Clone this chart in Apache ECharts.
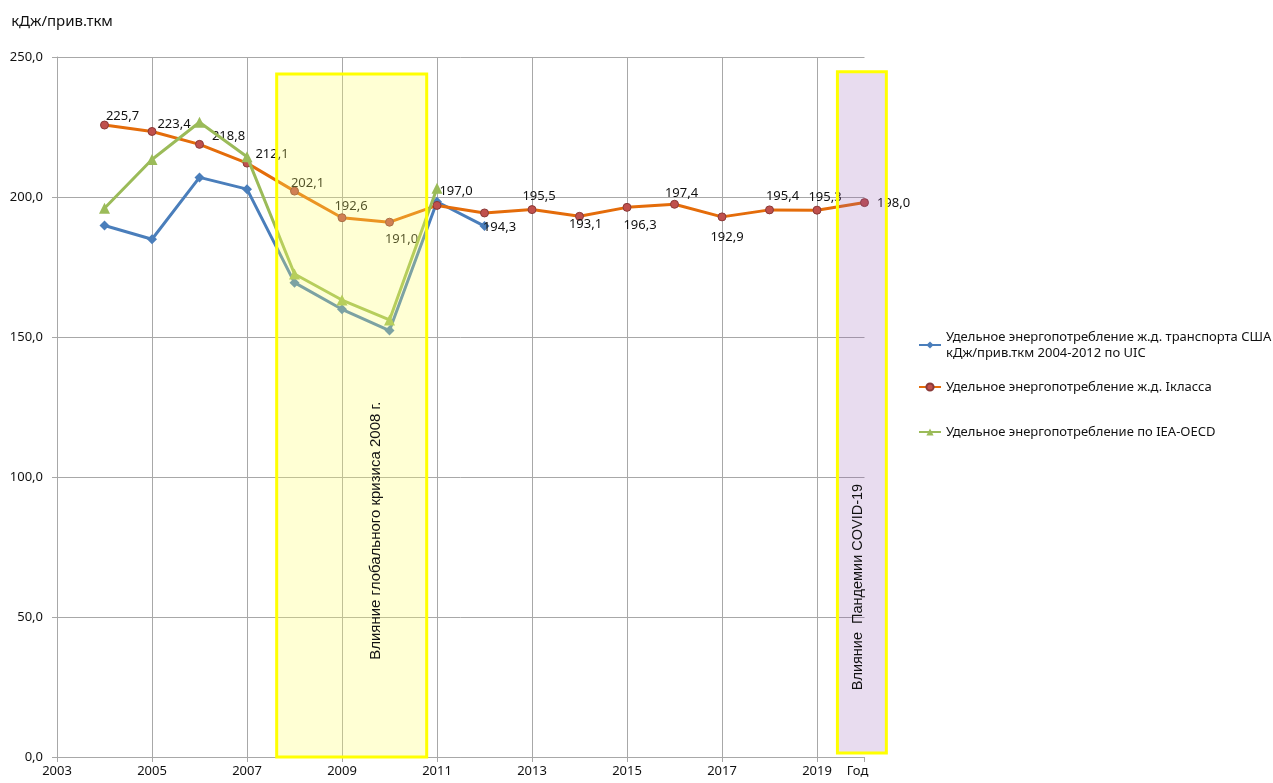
<!DOCTYPE html>
<html><head><meta charset="utf-8">
<script src="https://cdn.jsdelivr.net/npm/echarts@6/dist/echarts.min.js"></script>
<style>html,body{margin:0;padding:0;background:#fff}#c{width:1273px;height:783px}</style>
</head><body><div id="c"></div>
<script>
// ---- data ----
const years = [2004,2005,2006,2007,2008,2009,2010,2011,2012,2013,2014,2015,2016,2017,2018,2019,2020];
const usUIC = [189.8,184.9,207.0,202.8,169.4,159.9,152.3,198.3,189.6];          // 2004-2012
const class1 = [225.7,223.4,218.8,212.1,202.1,192.6,191.0,197.0,194.3,195.5,193.1,196.3,197.4,192.9,195.4,195.3,198.0];
const ieaOecd = [196.0,213.4,226.7,214.4,172.5,163.2,156.1,203.1];              // 2004-2011
const seriesNames = [
  'Удельное энергопотребление ж.д. транспорта США\nкДж/прив.ткм 2004-2012 по UIC',
  'Удельное энергопотребление ж.д. Iкласса',
  'Удельное энергопотребление по IEA-OECD'
];
const yAxisName = 'кДж/прив.ткм';
const xAxisEndLabel = 'Год';
const crisisText = 'Влияние глобального кризиса 2008 г.';
const covidText = 'Влияние  Пандемии COVID-19';
const crisisYears = [2007.625, 2010.783];
const crisisVals = [0, 243.9];
const covidYears = [2019.43, 2020.46];
const covidVals = [1.4, 244.75];
const crisisTextAt = [2009.716, 80.8];
const covidTextAt = [2019.863, 60.7];

// label offsets (px) for orange series data labels
const labelOffsets = [[18,-9],[22,-7],[29,-8],[25,-9],[13,-8],[9,-11],[12,17],[19,-14],[15,14],[7,-13],[6,8],[13,18],[7,-11],[5,20],[13,-14],[8,-13],[29,1]];

const FONT = '"Noto Sans", sans-serif';
const TXT = '#111';
const GRIDC = '#a8a8a8';
const fmt1 = v => v.toFixed(1).replace('.', ',');

const chart = echarts.init(document.getElementById('c'), null, {renderer: 'canvas'});

const xSplitColors = [];
for (let i = 0; i < 9; i++) xSplitColors.push(GRIDC);
xSplitColors.push('rgba(0,0,0,0)');

const option = {
  animation: false,
  backgroundColor: '#fff',
  textStyle: {fontFamily: FONT},
  grid: {left: 57, top: 57, right: 408.5, bottom: 26, containLabel: false, outerBoundsMode: 'none'},
  xAxis: {
    type: 'value', min: 2003, max: 2020, interval: 2,
    axisLine: {show: true, lineStyle: {color: GRIDC, width: 1}},
    axisTick: {show: true, length: 5, lineStyle: {color: GRIDC}},
    axisLabel: {
      margin: 8, color: TXT, fontSize: 13, fontFamily: FONT,
      formatter: v => v === 2020 ? '{g|' + xAxisEndLabel + '}' : String(v),
      rich: {g: {fontSize: 13, fontFamily: FONT, color: TXT, padding: [0, 14, 0, 0]}}
    },
    splitLine: {show: true, lineStyle: {color: xSplitColors, width: 1}}
  },
  yAxis: {
    type: 'value', min: 0, max: 250, interval: 50,
    name: yAxisName, nameLocation: 'end', nameGap: 26,
    nameTextStyle: {fontSize: 15, color: TXT, fontFamily: FONT, lineHeight: 18, padding: [0, 0, 0, 10]},
    axisLine: {show: true, lineStyle: {color: GRIDC, width: 1}},
    axisTick: {show: true, length: 5, lineStyle: {color: GRIDC}},
    axisLabel: {margin: 14, color: TXT, fontSize: 13, fontFamily: FONT, formatter: v => fmt1(v)},
    splitLine: {show: true, lineStyle: {color: GRIDC, width: 1}}
  },
  legend: [
    {
      left: 918, top: 321, padding: 0, orient: 'vertical', itemWidth: 22, itemHeight: 9,
      data: [seriesNames[0]],
      textStyle: {fontSize: 13, color: TXT, fontFamily: FONT, lineHeight: 16, padding: [16, 0, 0, 0]}
    },
    {
      left: 918, top: 379, padding: 0, orient: 'vertical', itemWidth: 22, itemHeight: 9,
      data: [seriesNames[1]],
      textStyle: {fontSize: 13, color: TXT, fontFamily: FONT, lineHeight: 16}
    },
    {
      left: 918, top: 424, padding: 0, orient: 'vertical', itemWidth: 22, itemHeight: 9,
      data: [seriesNames[2]],
      textStyle: {fontSize: 13, color: TXT, fontFamily: FONT, lineHeight: 16}
    }
  ],
  series: [
    {
      name: seriesNames[0], type: 'line',
      data: usUIC.map((v, i) => [years[i], v]),
      symbol: 'diamond', symbolSize: 10,
      itemStyle: {color: '#4a7ebb'},
      lineStyle: {color: '#4a7ebb', width: 3},
      z: 3
    },
    {
      name: seriesNames[1], type: 'line',
      data: class1.map((v, i) => ({
        value: [years[i], v],
        label: {offset: labelOffsets[i]}
      })),
      symbol: 'circle', symbolSize: 8,
      itemStyle: {color: '#c0504d', borderColor: '#8a3a38', borderWidth: 1},
      lineStyle: {color: '#e46c0a', width: 3},
      label: {
        show: true, position: 'inside', color: TXT, fontSize: 13, fontFamily: FONT,
        formatter: p => fmt1(p.value[1])
      },
      z: 4
    },
    {
      name: seriesNames[2], type: 'line',
      data: ieaOecd.map((v, i) => [years[i], v]),
      symbol: 'triangle', symbolSize: 11,
      itemStyle: {color: '#9bbb59'},
      lineStyle: {color: '#9bbb59', width: 3},
      z: 5
    }
  ]
};
chart.setOption(option);

function px(pt) { return chart.convertToPixel({gridIndex: 0}, pt); }
const c0 = px([crisisYears[0], crisisVals[1]]);
const c1 = px([crisisYears[1], crisisVals[0]]);
const v0 = px([covidYears[0], covidVals[1]]);
const v1 = px([covidYears[1], covidVals[0]]);
const ct = px(crisisTextAt);
const vt = px(covidTextAt);

chart.setOption({
  graphic: [
    {type: 'rect', z: 100, silent: true,
     shape: {x: c0[0], y: c0[1], width: c1[0] - c0[0], height: c1[1] - c0[1]},
     style: {fill: 'rgba(255,255,100,0.28)', stroke: '#ffff00', lineWidth: 3}},
    {type: 'rect', z: 100, silent: true,
     shape: {x: v0[0], y: v0[1], width: v1[0] - v0[0], height: v1[1] - v0[1]},
     style: {fill: 'rgba(140,80,175,0.2)', stroke: '#ffff00', lineWidth: 3}},
    {type: 'text', z: 101, silent: true, x: ct[0], y: ct[1], rotation: Math.PI / 2,
     style: {text: crisisText, font: '15px "Liberation Sans", Arial, sans-serif', fill: '#111',
             align: 'center', verticalAlign: 'middle'}},
    {type: 'text', z: 101, silent: true, x: vt[0], y: vt[1], rotation: Math.PI / 2,
     style: {text: covidText, font: '14.5px "Liberation Sans", Arial, sans-serif', fill: '#111',
             align: 'center', verticalAlign: 'middle'}}
  ]
});
</script>
</body></html>
